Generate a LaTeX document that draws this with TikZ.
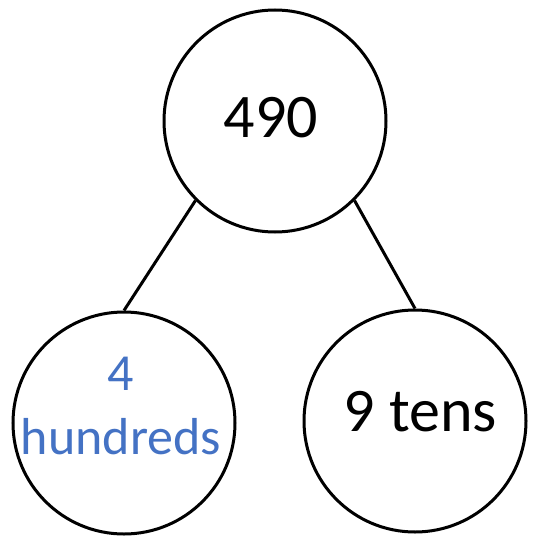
\documentclass[tikz,border=0pt]{standalone}
\usepackage{fontspec}
\setmainfont{Carlito}
\definecolor{partblue}{HTML}{4472C4}
\tikzset{
  part/.style={draw, circle, line width=3pt, minimum size=222pt, inner sep=0pt},
  big/.style={inner sep=0pt, font=\fontsize{62}{74}\selectfont},
  small/.style={inner sep=0pt, align=center, text=partblue, font=\fontsize{52}{64}\selectfont}
}
\begin{document}
\begin{tikzpicture}[x=1pt,y=-1pt]
    \useasboundingbox (0,0) rectangle (537,538);

    \node[part] (whole) at (275,121) {};
    \node[part] (hund) at (124,423) {};
    \node[part] (tens) at (415,421) {};

    \node[big] (wholetext) at (271,117.5) {490};
    \node[small] (hundtext) at (121,405.5) {4\\hundreds};
    \node[big] (tenstext) at (420.5,411.5) {9 tens};

    \draw[line width=3pt] (whole.225) -- (hund.north);
    \draw[line width=3pt] (whole.-45) -- (tens.north);
  \end{tikzpicture}
\end{document}
